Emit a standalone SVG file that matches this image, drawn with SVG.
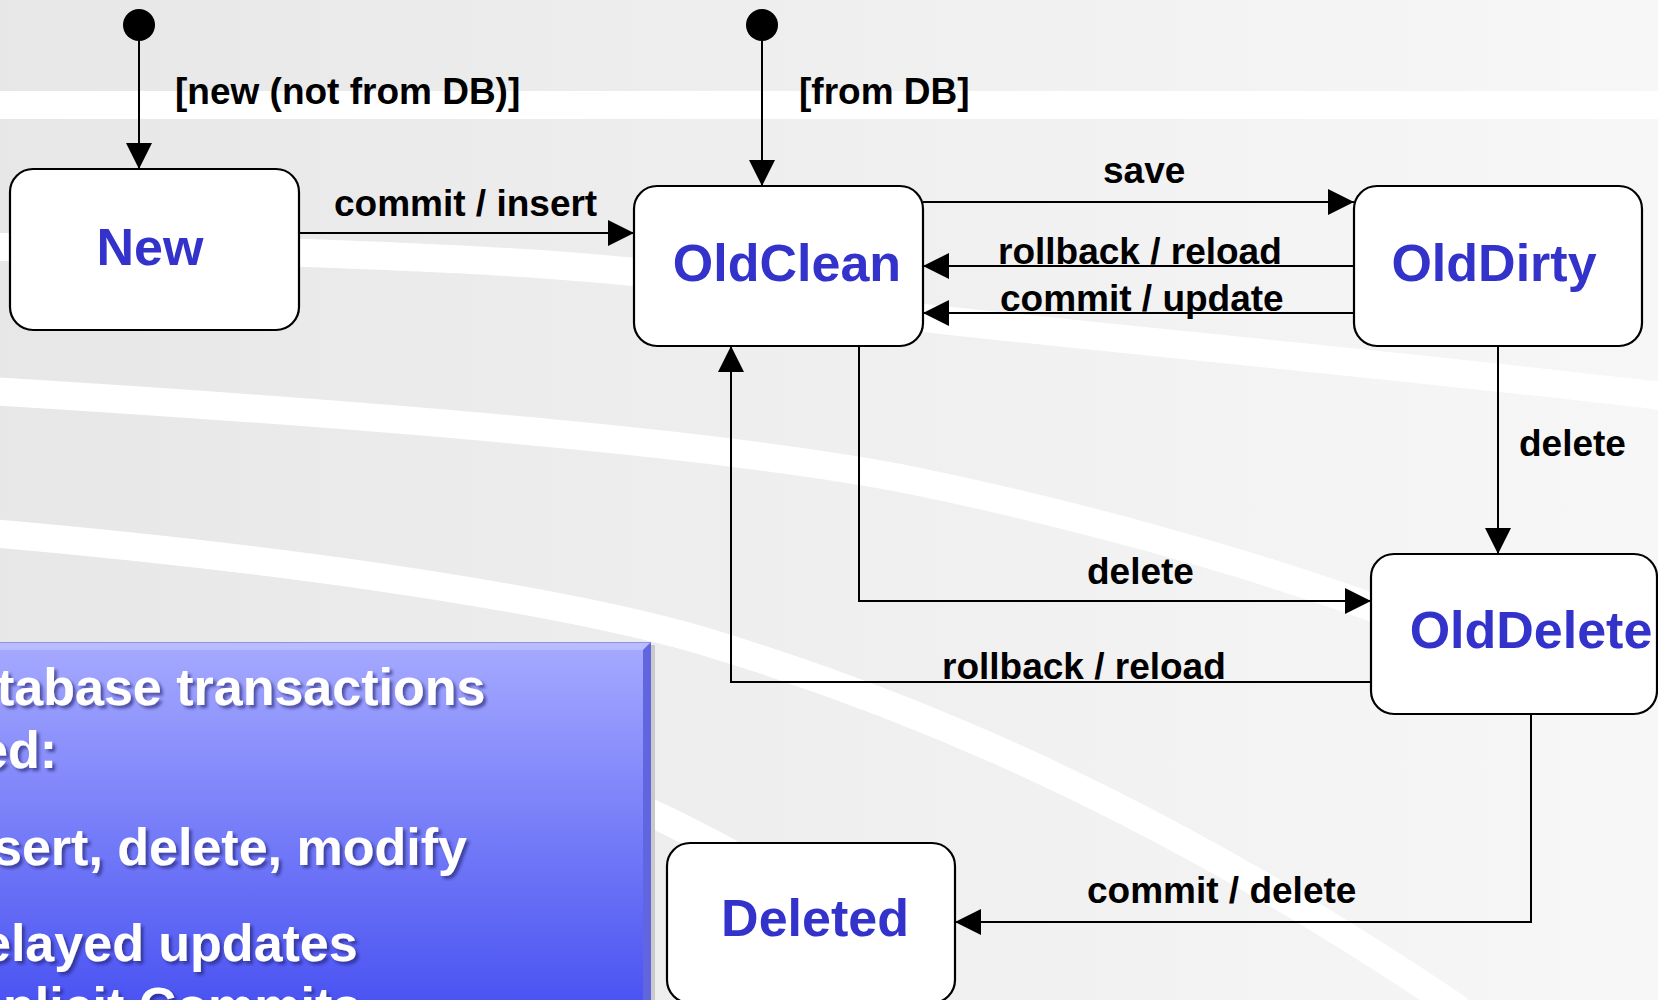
<svg xmlns="http://www.w3.org/2000/svg" width="1658" height="1000" viewBox="0 0 1658 1000">
  <defs>
    <linearGradient id="bg" x1="0" y1="0" x2="1658" y2="0" gradientUnits="userSpaceOnUse">
      <stop offset="0" stop-color="#e7e7e7"/>
      <stop offset="1" stop-color="#f7f7f7"/>
    </linearGradient>
    <linearGradient id="panel" x1="0" y1="642" x2="0" y2="1000" gradientUnits="userSpaceOnUse">
      <stop offset="0" stop-color="#a6aaff"/>
      <stop offset="1" stop-color="#4b54f2"/>
    </linearGradient>
    <filter id="txtShadow" x="-5%" y="-20%" width="115%" height="150%">
      <feDropShadow dx="3" dy="3" stdDeviation="1.6" flood-color="#20246a" flood-opacity="0.6"/>
    </filter>
    <marker id="arrow" markerUnits="userSpaceOnUse" markerWidth="26" markerHeight="26" refX="26" refY="13" orient="auto">
      <path d="M0,0 L26,13 L0,26 Z" fill="#000"/>
    </marker>
    <style>
      .swoosh { fill: none; stroke: #ffffff; stroke-width: 28; }
      .state { fill: #ffffff; stroke: #000000; stroke-width: 2.2; }
      .name { font-family: "Liberation Sans", Arial, sans-serif; font-weight: bold; font-size: 52px; fill: #3333cc; text-anchor: middle; }
      .lbl { font-family: "Liberation Sans", Arial, sans-serif; font-weight: bold; font-size: 37px; fill: #000000; }
      .edge { fill: none; stroke: #000000; stroke-width: 2; }
      .panelText { font-family: "Liberation Sans", Arial, sans-serif; font-weight: bold; font-size: 52px; fill: #ffffff; }
    </style>
  </defs>

  <!-- slide background with white swooshes -->
  <g id="background">
    <rect x="0" y="0" width="1658" height="1000" fill="url(#bg)"/>
    <path class="swoosh" d="M-10,105 L1670,105"/>
    <path class="swoosh" d="M-10,247 C 250,249 500,258 634,272 C 760,286 860,310 924,318 C 1100,338 1400,365 1670,397"/>
    <path class="swoosh" d="M-10,391 C 300,410 700,440 900,478 C 1050,508 1250,560 1420,625"/>
    <path class="swoosh" d="M-10,533 C 300,560 560,600 700,640 C 900,700 1150,800 1460,1010"/>
    <path class="swoosh" d="M600,790 C 650,812 700,835 760,870 C 820,905 870,950 900,1010"/>
  </g>

  <!-- text panel, lower left -->
  <g id="panel">
    <rect x="651" y="645" width="4" height="360" fill="#c9c9c9"/>
    <rect x="-10" y="642" width="661" height="370" fill="url(#panel)"/>
    <polygon points="-10,642 651,642 643,650 -10,650" fill="#b9bcff"/>
    <polygon points="651,642 651,1005 643,1005 643,650" fill="#6166e0"/>
    <line x1="-10" y1="642.5" x2="651" y2="642.5" stroke="#8e92e6" stroke-width="1"/>
    <g filter="url(#txtShadow)">
      <text class="panelText" x="-3" y="705">tabase transactions</text>
      <text class="panelText" x="-21" y="768">ed:</text>
      <text class="panelText" x="-7" y="865">sert, delete, modify</text>
      <text class="panelText" x="-18" y="961">elayed updates</text>
      <text class="panelText" x="3" y="1024">plicit Commits</text>
    </g>
  </g>

  <!-- transitions -->
  <g id="connectors">
    <circle cx="139" cy="25" r="16" fill="#000"/>
    <path class="edge" d="M139,41 L139,169" marker-end="url(#arrow)"/>
    <text class="lbl" x="175" y="104">[new (not from DB)]</text>

    <circle cx="762" cy="25" r="16" fill="#000"/>
    <path class="edge" d="M762,41 L762,186" marker-end="url(#arrow)"/>
    <text class="lbl" x="799" y="104">[from DB]</text>

    <path class="edge" d="M299,233 L634,233" marker-end="url(#arrow)"/>
    <text class="lbl" x="334" y="216">commit / insert</text>

    <path class="edge" d="M923,202 L1354,202" marker-end="url(#arrow)"/>
    <text class="lbl" x="1103" y="183">save</text>

    <path class="edge" d="M1354,266 L923,266" marker-end="url(#arrow)"/>
    <text class="lbl" x="998" y="264">rollback / reload</text>

    <path class="edge" d="M1354,313 L923,313" marker-end="url(#arrow)"/>
    <text class="lbl" x="1000" y="311">commit / update</text>

    <path class="edge" d="M1498,346 L1498,554" marker-end="url(#arrow)"/>
    <text class="lbl" x="1519" y="456">delete</text>

    <path class="edge" d="M859,346 L859,601 L1371,601" marker-end="url(#arrow)"/>
    <text class="lbl" x="1087" y="584">delete</text>

    <path class="edge" d="M1371,682 L731,682 L731,346" marker-end="url(#arrow)"/>
    <text class="lbl" x="942" y="679">rollback / reload</text>

    <path class="edge" d="M1531,714 L1531,922 L955,922" marker-end="url(#arrow)"/>
    <text class="lbl" x="1087" y="903">commit / delete</text>
  </g>

  <!-- states -->
  <g id="state-new">
    <rect class="state" x="10" y="169" width="289" height="161" rx="23"/>
    <text class="name" x="150" y="265">New</text>
  </g>
  <g id="state-oldclean">
    <rect class="state" x="634" y="186" width="289" height="160" rx="23"/>
    <text class="name" x="787" y="281">OldClean</text>
  </g>
  <g id="state-olddirty">
    <rect class="state" x="1354" y="186" width="288" height="160" rx="23"/>
    <text class="name" x="1494" y="281">OldDirty</text>
  </g>
  <g id="state-olddelete">
    <rect class="state" x="1371" y="554" width="286" height="160" rx="23"/>
    <text class="name" x="1531" y="648">OldDelete</text>
  </g>
  <g id="state-deleted">
    <rect class="state" x="667" y="843" width="288" height="160" rx="23"/>
    <text class="name" x="815" y="936">Deleted</text>
  </g>
</svg>
